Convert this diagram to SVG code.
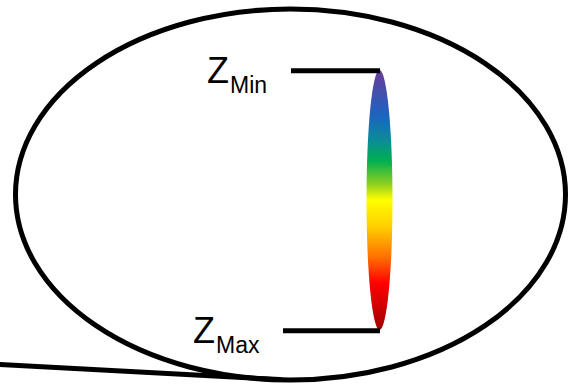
<svg xmlns="http://www.w3.org/2000/svg" width="571" height="387" viewBox="0 0 571 387">
<defs>
<linearGradient id="spec" x1="0" y1="0" x2="0" y2="1">
<stop offset="0" stop-color="#6a3a9c"/>
<stop offset="0.18" stop-color="#1a66c0"/>
<stop offset="0.27" stop-color="#0a8c98"/>
<stop offset="0.35" stop-color="#00b050"/>
<stop offset="0.44" stop-color="#90d020"/>
<stop offset="0.5" stop-color="#ffff00"/>
<stop offset="0.6" stop-color="#ffd000"/>
<stop offset="0.72" stop-color="#ff7000"/>
<stop offset="0.82" stop-color="#ff0000"/>
<stop offset="1" stop-color="#a00000"/>
</linearGradient>
<style>
.ln{stroke:#000;stroke-width:5;fill:none}
.z{font-family:"Liberation Sans",Arial,sans-serif;font-size:36px;fill:#000}
.s{font-size:23px}
</style>
</defs>
<rect width="571" height="387" fill="#fff"/>
<g id="body">
<ellipse class="ln" cx="290.5" cy="194.5" rx="275" ry="185.5"/>
</g>
<g id="lens">
<ellipse cx="379.5" cy="200" rx="13" ry="130" fill="url(#spec)"/>
</g>
<g id="labels">
<text class="z" x="207" y="83">Z<tspan class="s" x="230" y="92.7">Min</tspan></text>
<text class="z" x="193" y="343">Z<tspan class="s" x="216" y="352.7">Max</tspan></text>
</g>
<g id="connectors">
<line class="ln" x1="291" y1="70.7" x2="380" y2="70.7" stroke-width="4"/>
<line class="ln" x1="283" y1="330.7" x2="380" y2="330.7" stroke-width="4"/>
<line class="ln" x1="0" y1="364.5" x2="280" y2="379.6" stroke-linecap="round"/>
</g>
</svg>
